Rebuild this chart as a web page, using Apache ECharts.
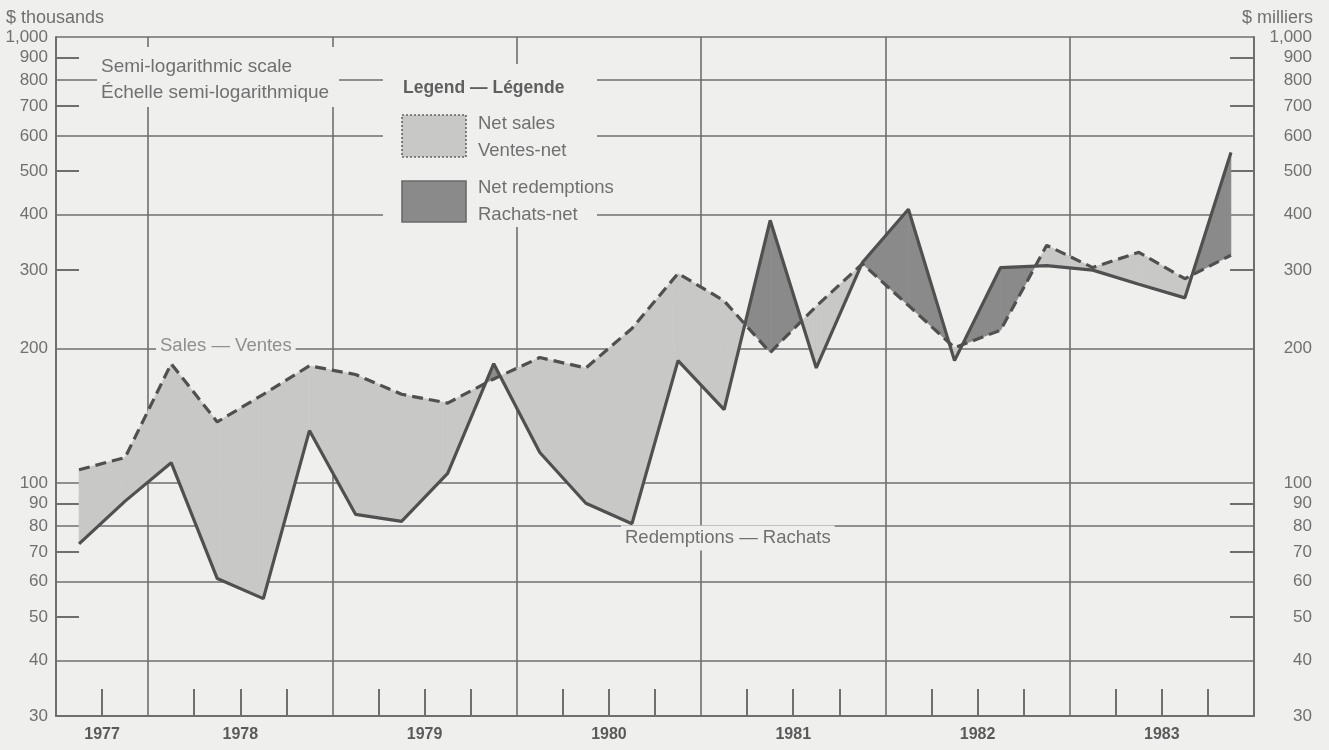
<!DOCTYPE html>
<html>
<head>
<meta charset="utf-8">
<script src="https://cdn.jsdelivr.net/npm/echarts@6/dist/echarts.min.js"></script>
<style>
  html, body { margin: 0; padding: 0; background: #efefee; }
  #chart { width: 1329px; height: 750px; }
</style>
</head>
<body>
<div id="chart"></div>
<script>
// ---- data ----
const quarters = ['1977 Q3','1977 Q4',
  '1978 Q1','1978 Q2','1978 Q3','1978 Q4',
  '1979 Q1','1979 Q2','1979 Q3','1979 Q4',
  '1980 Q1','1980 Q2','1980 Q3','1980 Q4',
  '1981 Q1','1981 Q2','1981 Q3','1981 Q4',
  '1982 Q1','1982 Q2','1982 Q3','1982 Q4',
  '1983 Q1','1983 Q2','1983 Q3','1983 Q4'];
const sales = [107,114,185,137,158,183,175,158,151,171,191,181,222,295,256,196,249,310,250,201,220,341,304,329,287,324];
const redemptions = [73,91,111,61,55,131,85,82,105,185,117,90,81,188,146,388,181,312,411,188,304,307,300,279,260,551];
const years = ['1977','1978','1979','1980','1981','1982','1983'];
const yLabelValues = [30,40,50,60,70,80,90,100,200,300,400,500,600,700,800,900,1000];
const yShortTickValues = [50,70,90,300,500,700,900];
const yGridValues = [40,60,80,100,200,400,600,800,1000];

// ---- styles ----
const BG = '#efefee';
const GRID = '#6f6f6f';
const LINE = '#505050';
const LIGHT = '#c8c8c7';
const DARK = '#8a8a8a';
const TXT = '#707070';
const FONT = '"Liberation Sans", Arial, sans-serif';

const chart = echarts.init(document.getElementById('chart'), null, {renderer: 'canvas'});

function yLabelFmt(v) {
  const n = Math.round(v);
  return n >= 1000 ? n.toLocaleString('en-US') : String(n);
}

function poly(points, color) {
  return {
    type: 'polygon',
    shape: {points: points},
    style: {fill: color, stroke: color, lineWidth: 0.6}
  };
}

const fillData = quarters.slice(0, -1).map((q, i) => [i, sales[i], redemptions[i]]);

function txt(x, y, text, size, opts) {
  const o = opts || {};
  return {
    type: 'text', z: 21, x: x, y: y,
    style: Object.assign({
      text: text, fill: TXT, font: (o.bold ? 'bold ' : '') + size + 'px ' + FONT,
      verticalAlign: 'middle', align: o.align || 'left'
    }, o.style || {})
  };
}

const option = {
  backgroundColor: BG,
  animation: false,
  grid: {left: 56, right: 75, top: 37, bottom: 34, containLabel: false, outerBoundsMode: 'none'},
  xAxis: [
    {
      type: 'category',
      data: quarters,
      boundaryGap: true,
      axisLine: {show: true, lineStyle: {color: GRID, width: 2}},
      axisTick: {
        show: true, inside: true, length: 27,
        interval: function (i) { return i > 0 && (i - 2) % 4 !== 0; },
        lineStyle: {color: GRID, width: 2}
      },
      axisLabel: {show: false},
      splitLine: {
        show: true,
        interval: function (i) { return i > 0 && (i - 2) % 4 === 0; },
        lineStyle: {color: GRID, width: 1.6}
      }
    },
    {
      type: 'value',
      min: 0, max: quarters.length, interval: 1,
      position: 'bottom',
      axisLine: {show: false}, axisTick: {show: false}, splitLine: {show: false},
      axisLabel: {
        show: true, margin: 11,
        color: '#5a5a5a', fontFamily: FONT, fontWeight: 'bold', fontSize: 16,
        formatter: function (v) {
          if (v === 1) return years[0];
          if (v % 4 === 0 && v > 0 && v < quarters.length) return years[v / 4];
          return '';
        }
      }
    }
  ],
  yAxis: [
    {
      type: 'log', logBase: 10, min: 30, max: 1000, position: 'left',
      axisLine: {show: true, lineStyle: {color: GRID, width: 2}},
      axisTick: {show: true, inside: true, length: 23, customValues: yShortTickValues,
        lineStyle: {color: GRID, width: 2}},
      axisLabel: {show: true, customValues: yLabelValues, formatter: yLabelFmt,
        margin: 8, color: TXT, fontFamily: FONT, fontSize: 17},
      splitLine: {show: false}
    },
    {
      type: 'log', logBase: 10, min: 30, max: 1000, position: 'right',
      axisLine: {show: true, lineStyle: {color: GRID, width: 2}},
      axisTick: {show: true, inside: true, length: 24, customValues: yShortTickValues,
        lineStyle: {color: GRID, width: 2}},
      axisLabel: {show: true, customValues: yLabelValues, formatter: yLabelFmt,
        margin: 58, align: 'right', color: TXT, fontFamily: FONT, fontSize: 17},
      splitLine: {show: false}
    },
    {
      type: 'log', logBase: 10, min: 30, max: 1000, position: 'left',
      axisLine: {show: false},
      axisTick: {show: false, customValues: yGridValues},
      axisLabel: {show: false},
      splitLine: {show: true, lineStyle: {color: GRID, width: 1.6}}
    }
  ],
  series: [
    {
      type: 'custom',
      name: 'fill',
      xAxisIndex: 0, yAxisIndex: 0,
      silent: true,
      clip: true,
      z: 2,
      encode: {x: 0, y: [1, 2]},
      data: fillData,
      renderItem: function (params, api) {
        const i = api.value(0);
        const a0 = api.coord([i, sales[i]]);
        const a1 = api.coord([i + 1, sales[i + 1]]);
        const b0 = api.coord([i, redemptions[i]]);
        const b1 = api.coord([i + 1, redemptions[i + 1]]);
        const d0 = b0[1] - a0[1];
        const d1 = b1[1] - a1[1];
        const col = function (d) { return d >= 0 ? LIGHT : DARK; };
        const children = [];
        if (d0 * d1 >= 0) {
          children.push(poly([a0, a1, b1, b0], col(d0 + d1)));
        } else {
          const t = d0 / (d0 - d1);
          const c = [a0[0] + t * (a1[0] - a0[0]), a0[1] + t * (a1[1] - a0[1])];
          children.push(poly([a0, c, b0], col(d0)));
          children.push(poly([c, a1, b1], col(d1)));
        }
        return {type: 'group', children: children};
      }
    },
    {
      type: 'line', name: 'Sales — Ventes',
      xAxisIndex: 0, yAxisIndex: 0,
      data: sales, symbol: 'none', z: 4,
      lineStyle: {color: LINE, width: 3.2, type: [11, 6]}
    },
    {
      type: 'line', name: 'Redemptions — Rachats',
      xAxisIndex: 0, yAxisIndex: 0,
      data: redemptions, symbol: 'none', z: 5,
      lineStyle: {color: LINE, width: 3.2}
    }
  ],
  graphic: [
    // unit titles
    txt(6, 18, '$ thousands', 18),
    txt(1313, 18, '$ milliers', 18, {align: 'right'}),
    // semi-log box
    {type: 'rect', z: 20, shape: {x: 97, y: 47, width: 242, height: 60}, style: {fill: BG}},
    txt(101, 67, 'Semi-logarithmic scale', 19),
    txt(101, 93, 'Échelle semi-logarithmique', 19),
    // legend box
    {type: 'rect', z: 20, shape: {x: 383, y: 64, width: 214, height: 163}, style: {fill: BG}},
    txt(403, 88, 'Legend — Légende', 17.5, {bold: true, style: {fill: '#5f5f5f'}}),
    {type: 'rect', z: 21, shape: {x: 402, y: 115, width: 64, height: 42},
      style: {fill: LIGHT, stroke: '#666', lineWidth: 1.6, lineDash: [2, 2]}},
    {type: 'rect', z: 21, shape: {x: 402, y: 181, width: 64, height: 41},
      style: {fill: DARK, stroke: '#6a6a6a', lineWidth: 1.6}},
    txt(478, 124, 'Net sales', 18.5),
    txt(478, 151, 'Ventes-net', 18.5),
    txt(478, 188, 'Net redemptions', 18.5),
    txt(478, 215, 'Rachats-net', 18.5),
    // series labels
    txt(156, 346, 'Sales — Ventes', 18.5,
      {style: {fill: '#8f8f8f', backgroundColor: BG, padding: [1, 4]}}),
    txt(621, 538, 'Redemptions — Rachats', 18.5,
      {style: {backgroundColor: BG, padding: [3, 4]}})
  ]
};

chart.setOption(option);
</script>
</body>
</html>
